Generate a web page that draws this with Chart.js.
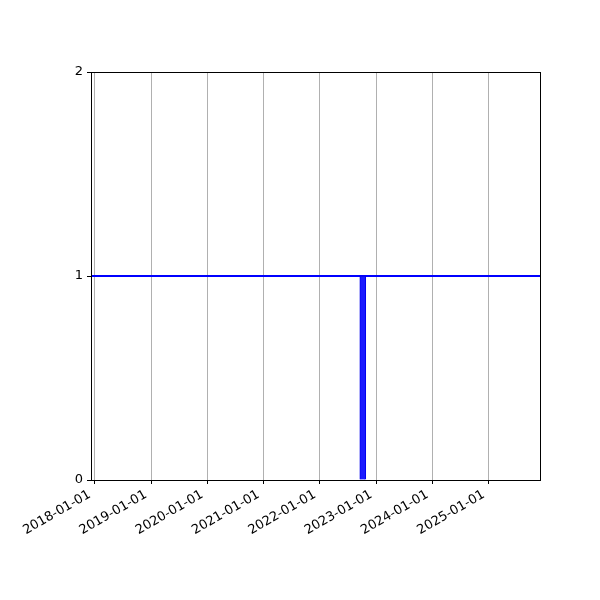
<!DOCTYPE html>
<html>
<head>
<meta charset="utf-8">
<script src="https://cdn.jsdelivr.net/npm/chart.js@4"></script>
<style>
  html, body { margin: 0; padding: 0; background: #fff; }
  canvas { display: block; }
</style>
</head>
<body>
<canvas id="graphic" width="600" height="600"></canvas>
<script>
// data
const anos = [2018, 2019, 2020, 2021, 2022, 2023, 2024, 2025];
const rotulosX = ['2018-01-01', '2019-01-01', '2020-01-01', '2021-01-01',
                  '2022-01-01', '2023-01-01', '2024-01-01', '2025-01-01'];
const datasBarra = ['2022-10-06'];
const valoresBarra = [1];
const linhaY = 1;
const limitesX = ['2017-12-08', '2025-11-29'];
const ticksY = [0, 1, 2];

// data -> ano decimal
function anoDecimal(s) {
    const d = new Date(s + 'T00:00:00Z');
    const ini = Date.UTC(d.getUTCFullYear(), 0, 1);
    const fim = Date.UTC(d.getUTCFullYear() + 1, 0, 1);
    return d.getUTCFullYear() + (d - ini) / (fim - ini);
}

const xMin = anoDecimal(limitesX[0]);
const xMax = anoDecimal(limitesX[1]);

const fonte = { family: 'DejaVu Sans', size: 13 };

// moldura (spines de cima e da direita)
const moldura = {
    id: 'moldura',
    afterDraw(chart) {
        const { ctx, chartArea: a } = chart;
        ctx.save();
        ctx.strokeStyle = '#000';
        ctx.lineWidth = 1;
        ctx.strokeRect(Math.round(a.left) + 0.5, Math.round(a.top) + 0.5,
                       Math.round(a.right - a.left), Math.round(a.bottom - a.top));
        ctx.restore();
    }
};

new Chart(document.getElementById('graphic'), {
    type: 'bar',
    data: {
        datasets: [{
            type: 'line',
            data: [{ x: xMin, y: linhaY }, { x: xMax, y: linhaY }],
            borderColor: '#0000ff',
            borderWidth: 2,
            pointRadius: 0,
            fill: false,
            order: 1
        }, {
            type: 'bar',
            data: datasBarra.map((d, i) => ({ x: anoDecimal(d), y: valoresBarra[i] })),
            backgroundColor: '#1a1aff',
            borderColor: '#0000ee',
            borderWidth: 1,
            barThickness: 6,
            order: 0
        }]
    },
    plugins: [moldura],
    options: {
        responsive: false,
        animation: false,
        devicePixelRatio: 1,
        layout: { padding: { top: 72, right: 60, left: 0, bottom: 0 } },
        plugins: { legend: { display: false }, tooltip: { enabled: false } },
        scales: {
            x: {
                type: 'linear',
                min: xMin,
                max: xMax,
                offset: false,
                afterBuildTicks: axis => { axis.ticks = anos.map(v => ({ value: v })); },
                afterFit: axis => { axis.height = 120; },
                ticks: {
                    callback: (v) => rotulosX[anos.indexOf(v)],
                    minRotation: 30,
                    maxRotation: 30,
                    color: '#000',
                    font: fonte,
                    padding: 3,
                    labelOffset: -5
                },
                grid: {
                    offset: false,
                    color: '#b0b0b0',
                    tickColor: '#000',
                    tickLength: 4,
                    lineWidth: 1
                },
                border: { color: '#000' }
            },
            y: {
                min: 0,
                max: 2,
                afterBuildTicks: axis => { axis.ticks = ticksY.map(v => ({ value: v })); },
                afterFit: axis => { axis.width = 91; },
                ticks: {
                    color: '#000',
                    font: fonte,
                    padding: 4
                },
                grid: {
                    drawOnChartArea: false,
                    tickColor: '#000',
                    tickLength: 4
                },
                border: { color: '#000' }
            }
        }
    }
});
</script>
</body>
</html>
